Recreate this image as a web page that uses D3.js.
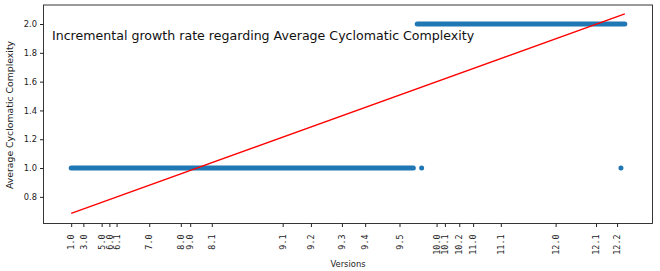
<!DOCTYPE html>
<html>
<head>
<meta charset="utf-8">
<script src="https://cdn.jsdelivr.net/npm/d3@7"></script>
<style>
  body { margin: 0; background: #fff; }
  svg { display: block; }
</style>
</head>
<body>
<script>
// x is a position along the commit history (0..1000), versions mark release points on it
const versionLabels = ['1.0', '3.0', '5.0', '6.0', '6.1', '7.0', '8.0', '9.0', '8.1', '9.1', '9.2',
    '9.3', '9.4', '9.5', '10.0', '10.1', '10.2', '11.0', '11.1', '12.0', '12.1', '12.2'];
const versionPos = [0, 22, 55, 69, 82, 141, 198, 215, 254, 382, 433,
    489, 531, 593, 660, 675, 701, 726, 776, 875, 948, 986];

// runs of consecutive commits with the same value: [from, to, value]
const runs = [
    [0, 618, 1.0],
    [625, 1000, 2.0]
];
// single commits standing apart
const singlesX = [633, 993];
const singlesY = [1.0, 1.0];

// fitted trend line (start and end value)
const trendX = [0, 1000];
const trendY = [0.685, 2.07];

const yTicks = [0.8, 1.0, 1.2, 1.4, 1.6, 1.8, 2.0];

const width = 660, height = 271;
const margin = {top: 5, right: 7.5, bottom: 47.5, left: 43.5};

const svg = d3.select('body').append('svg')
    .attr('width', width)
    .attr('height', height)
    .style('font-family', 'DejaVu Sans, sans-serif');

const x = d3.scaleLinear()
    .domain([-50, 1050])
    .range([margin.left, width - margin.right]);

const y = d3.scaleLinear()
    .domain([0.615, 2.132])
    .range([height - margin.bottom, margin.top]);

const g = svg.append('g');

// points, drawn as thick runs since the commits sit shoulder to shoulder
g.append('g')
    .selectAll('line')
    .data(runs)
    .enter().append('line')
    .attr('x1', d => x(d[0]))
    .attr('x2', d => x(d[1]))
    .attr('y1', d => y(d[2]))
    .attr('y2', d => y(d[2]))
    .attr('stroke', '#1f77b4')
    .attr('stroke-width', 5)
    .attr('stroke-linecap', 'round');

g.append('g')
    .selectAll('circle')
    .data(singlesX)
    .enter().append('circle')
    .attr('cx', d => x(d))
    .attr('cy', (d, i) => y(singlesY[i]))
    .attr('r', 2.5)
    .attr('fill', '#1f77b4');

// trend
g.append('line')
    .attr('x1', x(trendX[0]))
    .attr('y1', y(trendY[0]))
    .attr('x2', x(trendX[1]))
    .attr('y2', y(trendY[1]))
    .attr('stroke', '#ff0000')
    .attr('stroke-width', 1.4);

// frame
svg.append('rect')
    .attr('x', margin.left)
    .attr('y', margin.top)
    .attr('width', width - margin.left - margin.right)
    .attr('height', height - margin.top - margin.bottom)
    .attr('fill', 'none')
    .attr('stroke', '#222')
    .attr('stroke-width', 0.9);

// y axis
const yAxis = svg.append('g')
    .attr('transform', `translate(${margin.left},0)`)
    .call(d3.axisLeft(y).tickValues(yTicks).tickFormat(d3.format('.1f')).tickSize(3.5).tickPadding(3));
yAxis.select('.domain').remove();
yAxis.selectAll('text').attr('font-size', '8.3px').attr('fill', '#222')
    .style('font-family', 'DejaVu Sans, sans-serif');
yAxis.selectAll('line').attr('stroke', '#222');

// x axis with version ticks
const xAxis = svg.append('g')
    .attr('transform', `translate(0,${height - margin.bottom})`)
    .call(d3.axisBottom(x).tickValues(versionPos).tickFormat((d, i) => versionLabels[i]).tickSize(3.5));
xAxis.select('.domain').remove();
xAxis.selectAll('line').attr('stroke', '#222');
xAxis.selectAll('text')
    .attr('transform', 'rotate(-90)')
    .attr('text-anchor', 'end')
    .attr('x', -11)
    .attr('y', 0)
    .attr('dy', '0.32em')
    .attr('font-size', '8.4px')
    .attr('fill', '#222')
    .style('font-family', 'DejaVu Sans Mono, monospace');

// labels
svg.append('text')
    .attr('x', (margin.left + width - margin.right) / 2)
    .attr('y', 267)
    .attr('text-anchor', 'middle')
    .attr('font-size', '8.4px')
    .attr('fill', '#222')
    .text('Versions');

svg.append('text')
    .attr('transform', `translate(12.5,115) rotate(-90)`)
    .attr('text-anchor', 'middle')
    .attr('font-size', '9.3px')
    .attr('fill', '#222')
    .text('Average Cyclomatic Complexity');

svg.append('text')
    .attr('x', 52)
    .attr('y', 39.5)
    .attr('font-size', '12.6px')
    .attr('fill', '#111')
    .text('Incremental growth rate regarding Average Cyclomatic Complexity');
</script>
</body>
</html>
